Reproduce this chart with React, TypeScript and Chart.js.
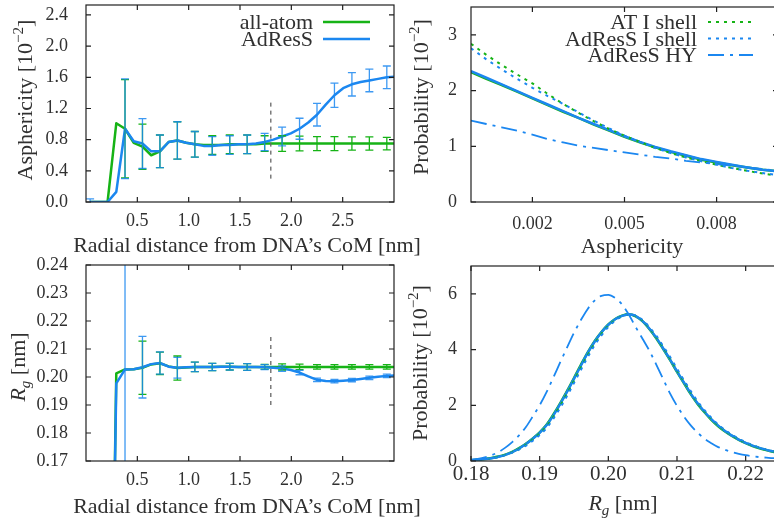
import React, { useEffect, useRef } from 'react';
import { Chart, registerables } from 'chart.js';
Chart.register(...registerables);

const FONT = '"Liberation Serif", "Times New Roman", serif';
const GREEN = '#16b316';
const BLUE = '#1b87f0';
const BLUE_ERR = 'rgba(27,135,240,0.85)';
const TEXT = '#303030';
const FRAME = '#202020';

// ---------- top-left / bottom-left: radial profiles ----------
const RADIAL_X = [0.04, 0.125, 0.21, 0.295, 0.38, 0.465, 0.55, 0.635, 0.72, 0.805, 0.89, 0.975, 1.06, 1.145, 1.23, 1.315, 1.4, 1.485, 1.57, 1.655, 1.74, 1.825, 1.91, 1.995, 2.08, 2.165, 2.25, 2.335, 2.42, 2.505, 2.59, 2.675, 2.76, 2.845, 2.93, 3.015];

const ASPH_ALLATOM = [0, 0, 0, 1.01, 0.94, 0.76, 0.71, 0.6, 0.65, 0.77, 0.79, 0.76, 0.74, 0.73, 0.73, 0.73, 0.74, 0.74, 0.74, 0.74, 0.75, 0.75, 0.75, 0.75, 0.75, 0.75, 0.75, 0.75, 0.75, 0.75, 0.75, 0.75, 0.75, 0.75, 0.75, 0.75];
const ASPH_ADRESS = [0, 0, 0, 0.13, 0.94, 0.78, 0.75, 0.65, 0.65, 0.77, 0.79, 0.76, 0.74, 0.72, 0.72, 0.73, 0.73, 0.74, 0.74, 0.75, 0.77, 0.8, 0.84, 0.88, 0.94, 1.02, 1.12, 1.25, 1.37, 1.46, 1.51, 1.54, 1.56, 1.58, 1.6, 1.61];
const ASPH_ALLATOM_ERR = [null, null, null, null, 0.63, null, 0.29, null, 0.21, null, 0.24, null, 0.165, null, 0.12, null, 0.12, null, 0.12, null, 0.1, null, 0.1, null, 0.095, null, 0.09, null, 0.09, null, 0.085, null, 0.085, null, 0.08, null];
const ASPH_ADRESS_ERR = [0.04, null, null, null, 0.64, null, 0.32, null, 0.21, null, 0.24, null, 0.165, null, 0.12, null, 0.12, null, 0.12, null, 0.11, null, 0.12, null, 0.135, null, 0.145, null, 0.155, null, 0.15, null, 0.145, null, 0.145, null];

const RG_ALLATOM = [0, 0, 0, 0.2013, 0.2027, 0.2028, 0.2033, 0.2045, 0.2049, 0.2038, 0.2032, 0.2034, 0.2036, 0.2036, 0.2036, 0.2037, 0.2037, 0.2036, 0.2036, 0.2036, 0.2036, 0.2036, 0.2036, 0.2036, 0.2036, 0.2036, 0.2036, 0.2036, 0.2036, 0.2036, 0.2036, 0.2036, 0.2036, 0.2036, 0.2036, 0.2036];
const RG_ADRESS = [0, 0, 0, 0.1977, 0.2027, 0.2028, 0.2035, 0.2046, 0.205, 0.2037, 0.2033, 0.2035, 0.2036, 0.2036, 0.2036, 0.2037, 0.2037, 0.2036, 0.2036, 0.2036, 0.2035, 0.2033, 0.203, 0.2025, 0.2016, 0.2002, 0.199, 0.1986, 0.1985, 0.1987, 0.1989, 0.1993, 0.1997, 0.2001, 0.2004, 0.2006];
const RG_ALLATOM_ERR = [null, null, null, null, null, null, 0.0095, null, 0.004, null, 0.0043, null, 0.0017, null, 0.0013, null, 0.0012, null, 0.0012, null, 0.0009, null, 0.0011, null, 0.001, null, 0.0008, null, 0.0008, null, 0.0008, null, 0.0008, null, 0.0008, null];
const RG_ADRESS_ERR = [null, null, null, null, 0.1, null, 0.011, null, 0.004, null, 0.0037, null, 0.0017, null, 0.0013, null, 0.0012, null, 0.0012, null, 0.0009, null, 0.001, null, 0.0008, null, 0.0006, null, 0.0006, null, 0.0006, null, 0.0006, null, 0.0006, null];

// ---------- top-right: asphericity distributions ----------
const ASPH_X = [0, 0.0005, 0.001, 0.0015, 0.002, 0.0025, 0.003, 0.0035, 0.004, 0.0045, 0.005, 0.0055, 0.006, 0.0065, 0.007, 0.0075, 0.008, 0.0085, 0.009, 0.0095, 0.01];
const P_ASPH_AT = [2.33, 2.21, 2.1, 1.98, 1.86, 1.74, 1.62, 1.51, 1.39, 1.28, 1.17, 1.07, 0.98, 0.9, 0.83, 0.76, 0.71, 0.66, 0.62, 0.58, 0.55];
const P_ASPH_ADRESS = [2.35, 2.23, 2.11, 1.99, 1.87, 1.75, 1.63, 1.51, 1.4, 1.29, 1.18, 1.08, 0.99, 0.91, 0.84, 0.77, 0.72, 0.67, 0.62, 0.58, 0.55];
const P_ASPH_AT_SHELL = [2.84, 2.64, 2.46, 2.29, 2.13, 1.94, 1.76, 1.6, 1.45, 1.31, 1.19, 1.08, 0.97, 0.88, 0.8, 0.73, 0.67, 0.61, 0.56, 0.51, 0.47];
const P_ASPH_ADRESS_SHELL = [2.76, 2.56, 2.38, 2.21, 2.05, 1.9, 1.76, 1.61, 1.46, 1.32, 1.19, 1.08, 0.97, 0.88, 0.8, 0.73, 0.67, 0.61, 0.56, 0.52, 0.48];
const P_ASPH_ADRESS_HY = [1.46, 1.4, 1.34, 1.28, 1.21, 1.13, 1.07, 1.01, 0.97, 0.93, 0.89, 0.85, 0.81, 0.78, 0.74, 0.71, 0.68, 0.65, 0.62, 0.59, 0.56];

// ---------- bottom-right: Rg distributions ----------
const RG_X = [0.18, 0.181, 0.182, 0.183, 0.184, 0.185, 0.186, 0.187, 0.188, 0.189, 0.19, 0.191, 0.192, 0.193, 0.194, 0.195, 0.196, 0.197, 0.198, 0.199, 0.2, 0.201, 0.202, 0.203, 0.204, 0.205, 0.206, 0.207, 0.208, 0.209, 0.21, 0.211, 0.212, 0.213, 0.214, 0.215, 0.216, 0.217, 0.218, 0.219, 0.22, 0.221, 0.222, 0.223, 0.224, 0.225];
const P_RG_AT = [0.03, 0.05, 0.07, 0.11, 0.16, 0.23, 0.33, 0.46, 0.62, 0.81, 1.03, 1.3, 1.67, 2.08, 2.52, 2.98, 3.45, 3.9, 4.3, 4.63, 4.9, 5.1, 5.22, 5.27, 5.19, 5.01, 4.73, 4.4, 4.02, 3.62, 3.2, 2.8, 2.4, 2.05, 1.75, 1.48, 1.25, 1.06, 0.9, 0.76, 0.64, 0.54, 0.46, 0.39, 0.33, 0.28];
const P_RG_ADRESS = [0.03, 0.05, 0.07, 0.1, 0.15, 0.22, 0.32, 0.45, 0.61, 0.8, 1.01, 1.28, 1.64, 2.05, 2.49, 2.95, 3.42, 3.88, 4.28, 4.62, 4.89, 5.09, 5.21, 5.27, 5.2, 5.02, 4.75, 4.42, 4.04, 3.64, 3.22, 2.82, 2.42, 2.07, 1.77, 1.5, 1.27, 1.08, 0.91, 0.77, 0.65, 0.55, 0.47, 0.4, 0.34, 0.29];
const P_RG_AT_SHELL = [0.03, 0.05, 0.07, 0.1, 0.15, 0.22, 0.31, 0.43, 0.58, 0.77, 0.98, 1.24, 1.59, 1.99, 2.42, 2.88, 3.35, 3.8, 4.21, 4.56, 4.85, 5.06, 5.2, 5.26, 5.21, 5.04, 4.77, 4.45, 4.08, 3.68, 3.26, 2.86, 2.46, 2.1, 1.79, 1.52, 1.28, 1.09, 0.92, 0.78, 0.66, 0.56, 0.47, 0.4, 0.34, 0.29];
const P_RG_ADRESS_SHELL = [0.03, 0.04, 0.06, 0.1, 0.14, 0.21, 0.3, 0.41, 0.55, 0.73, 0.93, 1.18, 1.52, 1.91, 2.34, 2.8, 3.27, 3.73, 4.15, 4.51, 4.81, 5.04, 5.19, 5.26, 5.22, 5.06, 4.8, 4.49, 4.12, 3.73, 3.31, 2.91, 2.51, 2.14, 1.83, 1.55, 1.31, 1.11, 0.94, 0.8, 0.68, 0.57, 0.48, 0.41, 0.35, 0.29];
const P_RG_ADRESS_HY = [0.05, 0.08, 0.13, 0.21, 0.32, 0.48, 0.68, 0.92, 1.22, 1.6, 2.0, 2.47, 3.0, 3.55, 4.08, 4.6, 5.06, 5.46, 5.76, 5.93, 5.96, 5.85, 5.62, 5.25, 4.8, 4.38, 3.95, 3.45, 2.93, 2.42, 1.98, 1.6, 1.28, 1.02, 0.8, 0.64, 0.5, 0.4, 0.32, 0.26, 0.21, 0.17, 0.14, 0.12, 0.1, 0.09];

// ---------- ticks ----------
const TL_X_TICKS = [0.5, 1.0, 1.5, 2.0, 2.5];
const TL_Y_TICKS = [0, 0.4, 0.8, 1.2, 1.6, 2.0, 2.4];
const TR_X_TICKS = [0.002, 0.005, 0.008];
const TR_Y_TICKS = [0, 1, 2, 3];
const BL_X_TICKS = [0.5, 1.0, 1.5, 2.0, 2.5];
const BL_Y_TICKS = [0.17, 0.18, 0.19, 0.2, 0.21, 0.22, 0.23, 0.24];
const BR_X_TICKS = [0.18, 0.19, 0.2, 0.21, 0.22];
const BR_Y_TICKS = [0, 2, 4, 6];

type Seg = { t: string; it?: boolean; sub?: boolean; sup?: boolean };

const CW = 800;
const CH = 523;
const AXW = 80;
const AXH = 40;

function pts(xs: number[], ys: number[]) {
  return xs.map((x, i) => ({ x, y: ys[i] }));
}

function drawRich(ctx: CanvasRenderingContext2D, segs: Seg[], x: number, y: number, size: number, rotate: boolean) {
  ctx.save();
  ctx.translate(x, y);
  if (rotate) ctx.rotate(-Math.PI / 2);
  const fontFor = (s: Seg) => `${s.it ? 'italic ' : ''}${s.sub || s.sup ? Math.round(size * 0.7) : size}px ${FONT}`;
  let total = 0;
  const ws = segs.map((s) => {
    ctx.font = fontFor(s);
    const w = ctx.measureText(s.t).width;
    total += w;
    return w;
  });
  let cx = -total / 2;
  ctx.fillStyle = TEXT;
  ctx.textAlign = 'left';
  ctx.textBaseline = 'alphabetic';
  segs.forEach((s, i) => {
    ctx.font = fontFor(s);
    const dy = s.sub ? size * 0.22 : s.sup ? -size * 0.4 : 0;
    ctx.fillText(s.t, cx, dy + size * 0.33);
    cx += ws[i];
  });
  ctx.restore();
}

interface ErrSet { xs: number[]; ys: number[]; err: (number | null)[]; color: string }
interface LegendItem { label: string; color: string; dash: number[]; width: number }
interface Panel {
  frame: { l: number; t: number; r: number; b: number };
  xMin: number; xMax: number; yMin: number; yMax: number;
  xTicks: number[]; yTicks: number[]; xDec: number; yDec: number;
  xTickSize: number; yTickSize: number; xTickPad: number; yTickPad: number;
  xTitle: Seg[]; xTitlePos: [number, number];
  yTitle: Seg[]; yTitlePos: [number, number];
  datasets: any[];
  errors?: ErrSet[];
  vline?: { x: number; y0: number; y1: number };
  legend?: { items: LegendItem[]; textRight: number; x0: number; x1: number; rows: number[] };
}

function panelPlugin(p: Panel) {
  return {
    id: 'panel',
    afterDatasetsDraw(chart: any) {
      const { ctx, chartArea: a } = chart;
      const xs = chart.scales.x;
      const ys = chart.scales.y;
      ctx.save();
      ctx.beginPath();
      ctx.rect(a.left, a.top, a.right - a.left, a.bottom - a.top);
      ctx.clip();
      if (p.vline) {
        ctx.strokeStyle = '#666666';
        ctx.lineWidth = 1.3;
        ctx.setLineDash([4, 4]);
        const px = xs.getPixelForValue(p.vline.x);
        ctx.beginPath();
        ctx.moveTo(px, ys.getPixelForValue(p.vline.y0));
        ctx.lineTo(px, ys.getPixelForValue(p.vline.y1));
        ctx.stroke();
        ctx.setLineDash([]);
      }
      (p.errors || []).forEach((e) => {
        ctx.strokeStyle = e.color;
        ctx.lineWidth = 1.3;
        e.err.forEach((d, i) => {
          if (d === null) return;
          const px = xs.getPixelForValue(e.xs[i]);
          const lo = ys.getPixelForValue(e.ys[i] - d);
          const hi = ys.getPixelForValue(e.ys[i] + d);
          ctx.beginPath();
          ctx.moveTo(px, lo);
          ctx.lineTo(px, hi);
          ctx.moveTo(px - 4, lo);
          ctx.lineTo(px + 4, lo);
          ctx.moveTo(px - 4, hi);
          ctx.lineTo(px + 4, hi);
          ctx.stroke();
        });
      });
      ctx.restore();
    },
    afterDraw(chart: any) {
      const { ctx, chartArea: a } = chart;
      const xs = chart.scales.x;
      const ys = chart.scales.y;
      ctx.save();
      ctx.strokeStyle = FRAME;
      ctx.lineWidth = 1.2;
      ctx.setLineDash([]);
      ctx.strokeRect(a.left, a.top, a.right - a.left, a.bottom - a.top);
      ctx.beginPath();
      p.xTicks.forEach((v) => {
        const px = xs.getPixelForValue(v);
        ctx.moveTo(px, a.bottom);
        ctx.lineTo(px, a.bottom - 5);
        ctx.moveTo(px, a.top);
        ctx.lineTo(px, a.top + 5);
      });
      p.yTicks.forEach((v) => {
        const py = ys.getPixelForValue(v);
        ctx.moveTo(a.left, py);
        ctx.lineTo(a.left + 5, py);
        ctx.moveTo(a.right, py);
        ctx.lineTo(a.right - 5, py);
      });
      ctx.stroke();
      drawRich(ctx, p.xTitle, p.xTitlePos[0], p.xTitlePos[1], 22, false);
      drawRich(ctx, p.yTitle, p.yTitlePos[0], p.yTitlePos[1], 22, true);
      if (p.legend) {
        const L = p.legend;
        L.items.forEach((it, i) => {
          const y = L.rows[i];
          ctx.font = `22px ${FONT}`;
          ctx.fillStyle = TEXT;
          ctx.textAlign = 'right';
          ctx.textBaseline = 'alphabetic';
          ctx.fillText(it.label, L.textRight, y + 7);
          ctx.strokeStyle = it.color;
          ctx.lineWidth = it.width;
          ctx.setLineDash(it.dash);
          ctx.beginPath();
          ctx.moveTo(L.x0, y);
          ctx.lineTo(L.x1, y);
          ctx.stroke();
          ctx.setLineDash([]);
        });
      }
      ctx.restore();
    },
  };
}

function makeChart(canvas: HTMLCanvasElement, p: Panel) {
  const f = p.frame;
  return new Chart(canvas, {
    type: 'line',
    data: { datasets: p.datasets },
    options: {
      responsive: false,
      animation: false,
      events: [],
      layout: { autoPadding: false, padding: { left: f.l - AXW, right: CW - f.r, top: f.t, bottom: CH - f.b - AXH } },
      plugins: { legend: { display: false }, tooltip: { enabled: false } },
      elements: { point: { radius: 0 }, line: { borderJoinStyle: 'round' } },
      scales: {
        x: {
          type: 'linear',
          min: p.xMin,
          max: p.xMax,
          grid: { display: false, drawTicks: false },
          border: { display: false },
          afterBuildTicks: (s: any) => { s.ticks = p.xTicks.map((v) => ({ value: v })); },
          afterFit: (s: any) => { s.height = AXH; s.paddingLeft = 0; s.paddingRight = 0; },
          ticks: {
            autoSkip: false, maxRotation: 0, padding: p.xTickPad, color: TEXT,
            font: { family: FONT, size: p.xTickSize, lineHeight: 1 },
            callback: (v: any) => Number(v).toFixed(p.xDec),
          },
        },
        y: {
          type: 'linear',
          min: p.yMin,
          max: p.yMax,
          grid: { display: false, drawTicks: false },
          border: { display: false },
          afterBuildTicks: (s: any) => { s.ticks = p.yTicks.map((v) => ({ value: v })); },
          afterFit: (s: any) => { s.width = AXW; s.paddingTop = 0; s.paddingBottom = 0; },
          ticks: {
            autoSkip: false, padding: p.yTickPad, color: TEXT,
            font: { family: FONT, size: p.yTickSize },
            callback: (v: any) => Number(v).toFixed(p.yDec),
          },
        },
      },
    } as any,
    plugins: [panelPlugin(p)],
  });
}

// order: lower value is drawn on top
const line = (data: any[], color: string, width: number, order: number, dash: number[] = [], extra: any = {}) => ({
  data, borderColor: color, borderWidth: width, borderDash: dash, fill: false, pointRadius: 0, tension: 0, order, ...extra,
});

const PROB_TITLE: Seg[] = [{ t: 'Probability [10' }, { t: '\u22122', sup: true }, { t: ']' }];
const RG_TITLE: Seg[] = [{ t: 'R', it: true }, { t: 'g', it: true, sub: true }, { t: ' [nm]' }];
const RADIAL_TITLE: Seg[] = [{ t: 'Radial distance from DNA\u2019s CoM [nm]' }];

const DOT = [3, 5];
const DASHDOT = [16, 6, 3, 6];
const MONO = { cubicInterpolationMode: 'monotone' };

function buildPanels(): Panel[] {
  const tl: Panel = {
    frame: { l: 86, t: 5, r: 394, b: 202 },
    xMin: 0, xMax: 3, yMin: 0, yMax: 2.528,
    xTicks: TL_X_TICKS, yTicks: TL_Y_TICKS, xDec: 1, yDec: 1,
    xTickSize: 18, yTickSize: 18, xTickPad: 10, yTickPad: 18,
    xTitle: RADIAL_TITLE, xTitlePos: [247, 245],
    yTitle: [{ t: 'Asphericity [10' }, { t: '\u22122', sup: true }, { t: ']' }], yTitlePos: [25, 100],
    datasets: [
      line(pts(RADIAL_X, ASPH_ALLATOM), GREEN, 2.5, 2),
      line(pts(RADIAL_X, ASPH_ADRESS), BLUE, 2.5, 1),
    ],
    errors: [
      { xs: RADIAL_X, ys: ASPH_ALLATOM, err: ASPH_ALLATOM_ERR, color: GREEN },
      { xs: RADIAL_X, ys: ASPH_ADRESS, err: ASPH_ADRESS_ERR, color: BLUE_ERR },
    ],
    vline: { x: 1.8, y0: 0.3, y1: 1.3 },
    legend: {
      items: [
        { label: 'all-atom', color: GREEN, dash: [], width: 2.5 },
        { label: 'AdResS', color: BLUE, dash: [], width: 2.5 },
      ],
      textRight: 313, x0: 323, x1: 370, rows: [22, 39],
    },
  };
  const tr: Panel = {
    frame: { l: 471, t: 7, r: 778, b: 202 },
    xMin: 0, xMax: 0.01, yMin: 0, yMax: 3.5,
    xTicks: TR_X_TICKS, yTicks: TR_Y_TICKS, xDec: 3, yDec: 0,
    xTickSize: 18, yTickSize: 18, xTickPad: 13, yTickPad: 14,
    xTitle: [{ t: 'Asphericity' }], xTitlePos: [632, 246],
    yTitle: PROB_TITLE, yTitlePos: [421, 97],
    datasets: [
      line(pts(ASPH_X, P_ASPH_AT), GREEN, 2.5, 5),
      line(pts(ASPH_X, P_ASPH_ADRESS), BLUE, 2.5, 4),
      line(pts(ASPH_X, P_ASPH_AT_SHELL), GREEN, 2, 3, DOT),
      line(pts(ASPH_X, P_ASPH_ADRESS_SHELL), BLUE, 2, 2, DOT),
      line(pts(ASPH_X, P_ASPH_ADRESS_HY), BLUE, 1.8, 1, DASHDOT),
    ],
    legend: {
      items: [
        { label: 'AT I shell', color: GREEN, dash: DOT, width: 2 },
        { label: 'AdResS I shell', color: BLUE, dash: DOT, width: 2 },
        { label: 'AdResS HY', color: BLUE, dash: DASHDOT, width: 1.8 },
      ],
      textRight: 697, x0: 708, x1: 753, rows: [22, 38.5, 55],
    },
  };
  const bl: Panel = {
    frame: { l: 86, t: 265, r: 394, b: 461 },
    xMin: 0, xMax: 3, yMin: 0.17, yMax: 0.24,
    xTicks: BL_X_TICKS, yTicks: BL_Y_TICKS, xDec: 1, yDec: 2,
    xTickSize: 18, yTickSize: 18, xTickPad: 10, yTickPad: 18,
    xTitle: RADIAL_TITLE, xTitlePos: [247, 506],
    yTitle: RG_TITLE, yTitlePos: [18, 367],
    datasets: [
      line(pts(RADIAL_X, RG_ALLATOM), GREEN, 2.5, 2),
      line(pts(RADIAL_X, RG_ADRESS), BLUE, 2.5, 1),
    ],
    errors: [
      { xs: RADIAL_X, ys: RG_ALLATOM, err: RG_ALLATOM_ERR, color: GREEN },
      { xs: RADIAL_X, ys: RG_ADRESS, err: RG_ADRESS_ERR, color: BLUE_ERR },
    ],
    vline: { x: 1.8, y0: 0.19, y1: 0.2145 },
  };
  const br: Panel = {
    frame: { l: 471, t: 266, r: 780, b: 461 },
    xMin: 0.18, xMax: 0.225, yMin: 0, yMax: 7,
    xTicks: BR_X_TICKS, yTicks: BR_Y_TICKS, xDec: 2, yDec: 0,
    xTickSize: 21, yTickSize: 18, xTickPad: 3, yTickPad: 14,
    xTitle: RG_TITLE, xTitlePos: [623, 503],
    yTitle: PROB_TITLE, yTitlePos: [420, 363],
    datasets: [
      line(pts(RG_X, P_RG_AT), GREEN, 2.5, 5, [], MONO),
      line(pts(RG_X, P_RG_ADRESS), BLUE, 2.5, 4, [], MONO),
      line(pts(RG_X, P_RG_AT_SHELL), GREEN, 2, 3, DOT, MONO),
      line(pts(RG_X, P_RG_ADRESS_SHELL), BLUE, 2, 2, DOT, MONO),
      line(pts(RG_X, P_RG_ADRESS_HY), BLUE, 1.8, 1, DASHDOT, MONO),
    ],
  };
  return [tl, tr, bl, br];
}

export default function App() {
  const refs = [useRef<HTMLCanvasElement>(null), useRef<HTMLCanvasElement>(null), useRef<HTMLCanvasElement>(null), useRef<HTMLCanvasElement>(null)];
  useEffect(() => {
    const panels = buildPanels();
    const charts = panels.map((p, i) => makeChart(refs[i].current as HTMLCanvasElement, p));
    return () => charts.forEach((c) => c.destroy());
  }, []);
  return (
    <div style={{ position: 'fixed', left: 0, top: 0, width: 774, height: 523, overflow: 'hidden', background: '#ffffff' }}>
      {refs.map((r, i) => (
        <canvas key={i} ref={r} width={CW} height={CH} style={{ position: 'absolute', left: 0, top: 0, width: CW, height: CH }} />
      ))}
    </div>
  );
}
